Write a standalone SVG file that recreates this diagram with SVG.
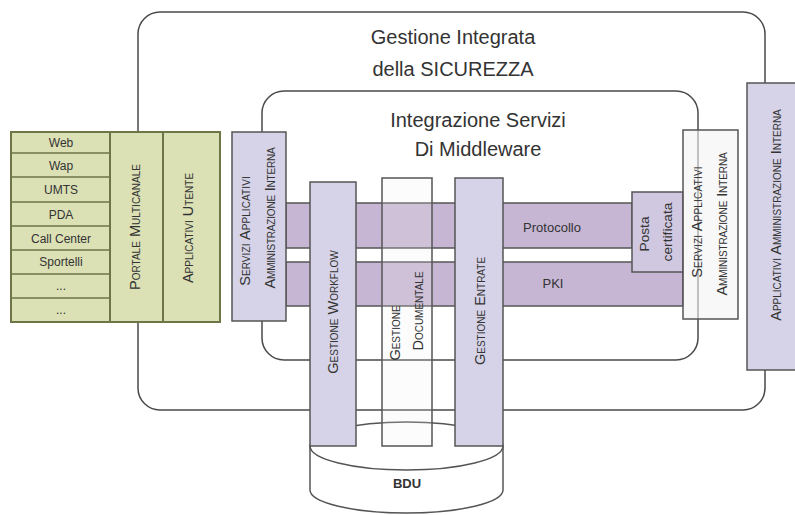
<svg xmlns="http://www.w3.org/2000/svg" width="795" height="515" viewBox="0 0 795 515">
<style>
.t{font-family:"Liberation Sans",Arial,sans-serif;fill:#333}
.title{font-size:20px;text-anchor:middle}
.li{font-size:12px;text-anchor:middle}
.v{font-size:14.5px;font-variant:small-caps;text-anchor:middle}
.frame{fill:none;stroke:#4a4a4a;stroke-width:1.5}
.green{fill:#dbe0b5;stroke:#6e7647;stroke-width:2}
.lav{fill:#d6d3e8;stroke:#555;stroke-width:1.5}
.band{fill:#c6b6d3;stroke:#555;stroke-width:1.5}
.ln{stroke:#555;stroke-width:1.5;fill:none}
</style>
<rect width="795" height="515" fill="#fff"/>

<g id="gestione-integrata">
<rect class="frame" x="138" y="12" width="627" height="398" rx="22"/>
<text class="t title" x="453" y="44">Gestione Integrata</text>
<text class="t title" x="453" y="76">della SICUREZZA</text>
</g>

<g id="integrazione-servizi">
<rect class="frame" x="262" y="91" width="436" height="269" rx="22"/>
<text class="t title" x="478" y="127">Integrazione Servizi</text>
<text class="t title" x="478" y="156">Di Middleware</text>
</g>

<g id="bdu">
<path d="M310,446 L310,490 A96.5,23 0 0 0 503,490 L503,446" fill="#fff" stroke="#555" stroke-width="1.5"/>
<ellipse cx="406.5" cy="446" rx="96.5" ry="24" fill="#fff" stroke="#555" stroke-width="1.5"/>
<text class="t" x="407" y="488" font-size="13" font-weight="bold" text-anchor="middle">BDU</text>
</g>

<g id="canali">
<rect class="green" x="11" y="132" width="99" height="190"/>
<path class="ln" style="stroke:#6e7647" d="M11,153H110M11,177H110M11,202H110M11,226H110M11,250H110M11,274H110M11,298H110"/>
<text class="t li" x="61" y="147">Web</text>
<text class="t li" x="61" y="170">Wap</text>
<text class="t li" x="61" y="194">UMTS</text>
<text class="t li" x="61" y="219">PDA</text>
<text class="t li" x="61" y="243">Call Center</text>
<text class="t li" x="61" y="266">Sportelli</text>
<text class="t li" x="61" y="290">...</text>
<text class="t li" x="61" y="314">...</text>
</g>

<g id="portale-multicanale">
<rect class="green" x="110" y="132" width="53" height="190"/>
<text class="t v" transform="translate(140,227) rotate(-90)">Portale Multicanale</text>
</g>

<g id="applicativi-utente">
<rect class="green" x="163" y="132" width="57" height="190"/>
<text class="t v" transform="translate(193,228) rotate(-90)">Applicativi Utente</text>
</g>

<g id="connectors">
<rect class="band" x="286" y="203" width="346" height="45"/>
<rect class="band" x="286" y="262" width="397" height="44"/>
</g>

<g id="servizi-sx">
<rect class="lav" x="232" y="132" width="54" height="189"/>
<text class="t v" transform="translate(250,231) rotate(-90)" letter-spacing="0.1">Servizi Applicativi</text>
<text class="t v" transform="translate(275,218) rotate(-90)" letter-spacing="-0.2">Amministrazione Interna</text>
</g>

<g id="protocollo">
<text class="t" x="552" y="232" font-size="13" text-anchor="middle">Protocollo</text>
</g>
<g id="pki">
<text class="t" x="553" y="288" font-size="13" text-anchor="middle">PKI</text>
</g>

<g id="gestione-workflow">
<rect class="lav" x="310" y="182" width="46" height="264"/>
<text class="t v" transform="translate(338,312) rotate(-90)" font-size="13">Gestione Workflow</text>
</g>

<g id="gestione-documentale">
<rect x="382" y="178" width="50" height="268" fill="#eeeeee" fill-opacity="0.2" stroke="#555" stroke-width="1.5"/>
<text class="t v" transform="translate(400,333) rotate(-90)">Gestione</text>
<text class="t v" transform="translate(423,311) rotate(-90)">Documentale</text>
</g>

<g id="gestione-entrate">
<rect class="lav" x="455" y="178" width="48" height="268"/>
<text class="t v" transform="translate(485,311) rotate(-90)">Gestione Entrate</text>
</g>

<g id="posta-certificata">
<rect x="632" y="192" width="51" height="80" fill="#d0c8e0" stroke="#555" stroke-width="1.5"/>
<text class="t" transform="translate(649,234) rotate(-90)" font-size="12" text-anchor="middle" textLength="35" lengthAdjust="spacingAndGlyphs">Posta</text>
<text class="t" transform="translate(672,232) rotate(-90)" font-size="12" text-anchor="middle" textLength="59" lengthAdjust="spacingAndGlyphs">certificata</text>
</g>

<g id="servizi-dx">
<rect x="683" y="130" width="55" height="189" fill="#f4f4f4" fill-opacity="0.6" stroke="#555" stroke-width="1.5"/>
<text class="t v" transform="translate(702,222) rotate(-90)" letter-spacing="0.2">Servizi Applicativi</text>
<text class="t v" transform="translate(727,224) rotate(-90)" letter-spacing="-0.1">Amministrazione Interna</text>
</g>

<g id="applicativi-amministrazione">
<rect class="lav" x="747" y="83" width="49" height="287"/>
<text class="t v" transform="translate(781,215) rotate(-90)">Applicativi Amministrazione Interna</text>
</g>
</svg>
